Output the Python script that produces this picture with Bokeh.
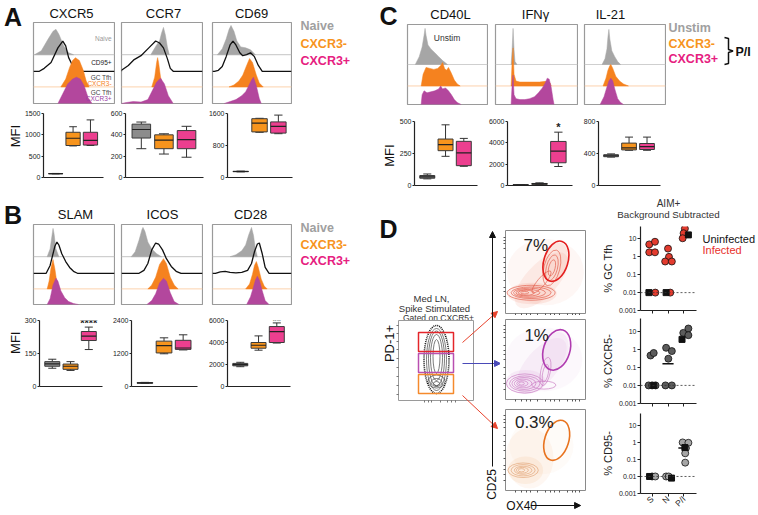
import math
from bokeh.plotting import figure
from bokeh.models import (Range1d, Spacer, FixedTicker, CustomJSTickFormatter, Span, Arrow,
                          NormalHead, ColumnDataSource, Label)
from bokeh.layouts import row, column
from bokeh.core.properties import value
from bokeh.embed import file_html
from bokeh.resources import INLINE

FONT = "Liberation Sans"
GRAY_H, ORANGE, PURPLE = "#a6a6a6", "#f5821f", "#b3479d"
BOX_COLORS = ["#8c8c8c", "#f7941d", "#ec3f8f"]

# ---------------------------------------------------------------- data
groups = ["Naive", "CXCR3-", "CXCR3+"]
# box stats per group: [min, q1, median, q3, max]
box_cxcr5 = [[85, 88, 90, 92, 95], [740, 750, 920, 1060, 1190], [750, 760, 870, 1060, 1350]]
box_ccr7 = [[270, 370, 450, 500, 520], [220, 270, 350, 400, 410], [190, 270, 355, 440, 480]]
box_cd69 = [[140, 145, 150, 155, 160], [1130, 1140, 1360, 1470, 1480], [1095, 1110, 1280, 1390, 1560]]
box_slam = [[83, 92, 103, 113, 124], [73, 78, 92, 102, 113], [168, 209, 229, 250, 270]]
box_icos = [[110, 120, 130, 140, 150], [1190, 1220, 1490, 1650, 1770], [1330, 1350, 1400, 1680, 1880]]
box_cd28 = [[1800, 1880, 1980, 2100, 2200], [3300, 3480, 3750, 4000, 4600], [3950, 4000, 4990, 5450, 5780]]
box_cd40l = [[52, 57, 67, 78, 90], [228, 272, 319, 363, 474], [150, 155, 255, 345, 368]]
box_ifng = [[30, 40, 50, 60, 70], [90, 110, 150, 190, 250], [1780, 2130, 3220, 4130, 5000]]
box_il21 = [[355, 360, 372, 385, 395], [440, 445, 470, 530, 605], [440, 450, 485, 525, 605]]

# histograms: x position inside the panel and height above the lane baseline
# lanes A/B: naive (grey), CD95+ (black line), CXCR3- (orange), CXCR3+ (purple)
h_cxcr5_x = [[1, 8, 15, 20, 23, 26, 31, 36, 41], [6, 11, 18, 25, 30, 33, 36, 40, 45, 51],
             [28, 33, 37, 40, 43, 47, 51, 54, 57], [25, 30, 35, 40, 44, 48, 52, 56, 60]]
h_cxcr5_h = [[0, 4, 16, 24, 26, 21, 9, 2, 0], [0, 3, 9, 24, 31, 26, 14, 6, 2, 0],
             [0, 8, 20, 27, 30, 27, 17, 6, 0], [0, 10, 20, 25, 27, 25, 18, 6, 0]]
h_ccr7_x = [[30, 33, 36, 39, 41, 43, 45, 47, 49], [0, 7, 13, 20, 28, 35, 39, 43, 47, 50, 53],
            [31, 34, 36, 37, 38, 40, 43], [0, 5, 12, 20, 27, 32, 36, 40, 44, 48, 53]]
h_ccr7_h = [[0, 5, 10, 14, 22, 28, 20, 8, 0], [1, 6, 12, 16, 24, 31, 29, 24, 13, 3, 0],
            [0, 10, 25, 30, 25, 10, 0], [0, 1, 2, 1.5, 4, 14, 22, 26, 20, 8, 0]]
h_cd69_x = [[5, 10, 14, 17, 19, 22, 25, 29, 34, 39, 44], [2, 6, 10, 14, 18, 21, 24, 28, 31, 35, 39, 43, 47, 51],
            [17, 22, 27, 31, 35, 38, 41, 45, 48, 52], [12, 18, 24, 30, 34, 37, 40, 42, 45, 48, 50]]
h_cd69_h = [[0, 6, 16, 26, 30, 24, 14, 8, 7, 5, 0], [0, 1, 5, 15, 27, 31, 27, 19, 16, 17, 19, 15, 6, 0],
            [0, 2, 6, 12, 22, 29, 25, 12, 4, 0], [0, 2, 4, 8, 12, 18, 24, 27, 18, 5, 0]]
h_slam_x = [[14, 17, 19, 20, 21, 23, 26], [13, 17, 20, 22, 24, 26, 29, 33, 37, 41, 45],
            [14, 16, 18, 20, 22, 24, 27], [14, 17, 20, 23, 25, 28, 32, 36, 41, 46]]
h_slam_h = [[0, 8, 22, 29, 24, 8, 0], [0, 8, 20, 28, 32, 29, 20, 12, 6, 2, 0],
            [0, 8, 22, 30, 20, 6, 0], [0, 6, 20, 27, 24, 14, 7, 3, 1, 0]]
h_icos_x = [[10, 14, 18, 21, 22, 24, 27, 31, 36, 41], [18, 23, 27, 31, 35, 38, 42, 46, 51, 56, 61],
            [27, 31, 35, 39, 43, 46, 50, 54, 58], [26, 31, 35, 39, 43, 46, 50, 54, 59]]
h_icos_h = [[0, 5, 17, 28, 30, 26, 15, 8, 3, 0], [0, 3, 10, 24, 31, 30, 24, 15, 7, 2, 0],
            [0, 4, 12, 25, 31, 26, 12, 4, 0], [0, 4, 11, 22, 27, 24, 12, 3, 0]]
h_cd28_x = [[18, 24, 30, 34, 37, 40, 42, 44, 46], [3, 8, 13, 18, 24, 30, 36, 40, 43, 46, 48, 51, 54, 58],
            [34, 38, 41, 43, 45, 47, 50, 53, 56], [35, 39, 42, 44, 46, 48, 51, 54, 58]]
h_cd28_h = [[0, 2, 6, 12, 22, 30, 22, 8, 0], [0, 1.5, 2, 1, 0.5, 1, 3, 10, 22, 30, 31, 20, 6, 0],
            [0, 5, 15, 24, 28, 22, 10, 3, 0], [0, 8, 18, 25, 29, 25, 14, 4, 0]]
# lanes C: unstim (grey), CXCR3- (orange), CXCR3+ (purple)
h_cd40l_x = [[8, 12, 15, 17, 18, 19, 21, 24, 28, 32, 36, 41],
             [14, 16, 19, 23, 27, 31, 34, 36, 38, 40, 42, 45, 48, 51, 54],
             [14, 15, 17, 20, 24, 28, 32, 34, 36, 39, 42, 45, 48, 51, 55]]
h_cd40l_h = [[0, 8, 18, 30, 37, 30, 20, 16, 12, 8, 4, 0],
             [0, 12, 19, 18, 17, 18, 21, 24, 18, 16, 19, 13, 6, 2, 0],
             [0, 10, 14, 12, 13, 14, 16, 19, 16, 17, 14, 10, 5, 2, 0]]
h_ifng_x = [[16, 17, 18, 19, 20, 22], [16, 17, 18, 19, 21, 25, 35, 45, 54, 56, 57],
            [16, 17, 18, 19, 21, 25, 30, 35, 40, 44, 48, 51, 53, 55, 57, 59, 60]]
h_ifng_h = [[0, 15, 37, 15, 3, 0], [0, 25, 39, 12, 5, 4, 4, 4, 5, 3, 0],
            [0, 20, 30, 10, 6, 5, 5, 6, 8, 12, 17, 22, 27, 26, 18, 5, 0]]
h_il21_x = [[18, 21, 23, 24, 25, 26, 28, 31, 34, 37], [19, 22, 24, 26, 27, 29, 32, 36, 40, 45],
            [16, 20, 23, 25, 27, 29, 31, 34, 37, 40]]
h_il21_h = [[0, 6, 16, 28, 36, 26, 14, 8, 3, 0], [0, 8, 16, 21, 22, 18, 10, 5, 2, 0],
            [0, 8, 18, 24, 27, 24, 16, 6, 2, 0]]

# AIM+ scatter (categories 1=S, 2=N, 3=P/I)
cats = ["S", "N", "P/I"]
tfh_inf_cat = [1, 1, 1, 1, 1, 2, 2, 2, 2, 2, 3, 3, 3]
tfh_inf_val = [5.0, 7.0, 1.8, 1.8, 0.01, 2.9, 1.0, 0.55, 0.55, 0.01, 38, 21, 11]
tfh_uninf_cat = [1, 2, 3]
tfh_uninf_val = [0.01, 0.01, 17]
cx5_inf_cat = [1, 1, 1, 1, 1, 2, 2, 2, 2, 2, 3, 3, 3]
cx5_inf_val = [0.45, 0.62, 0.01, 0.01, 0.01, 1.2, 0.79, 0.3, 0.01, 0.01, 8, 14, 6]
cx5_uninf_cat = [1, 3]
cx5_uninf_val = [0.01, 3.5]
cx5_median = {2: 0.16}
cd95_inf_cat = [1, 1, 2, 2, 3, 3, 3, 3, 3]
cd95_inf_val = [0.01, 0.01, 0.01, 0.01, 1.0, 0.95, 0.45, 0.23, 0.065]
cd95_uninf_cat = [1, 2, 3]
cd95_uninf_val = [0.01, 0.008, 0.5]
cd95_median = {3: 0.47}
# horizontal spread of the dots inside a category (styling only)
tfh_inf_dx = [-0.18, 0.18, -0.18, 0.18, 0.2, 0.0, 0.06, -0.18, 0.24, 0.14, 0.06, -0.02, -0.08]
tfh_uninf_dx = [-0.2, -0.12, 0.28]
cx5_inf_dx = [-0.1, 0.1, -0.22, 0.0, 0.22, -0.12, 0.24, 0.02, -0.16, 0.24, -0.04, 0.28, 0.28]
cx5_uninf_dx = [0.1, -0.12]
cd95_inf_dx = [0.0, 0.2, -0.12, 0.04, -0.08, 0.28, 0.12, 0.08, 0.08]
cd95_uninf_dx = [-0.16, 0.22, 0.06]

pct_labels = ["7%", "1%", "0.3%"]

# ---------------------------------------------------------------- helpers


def px(v):
    return int(round(v))


def base_fig(w, h, **kw):
    return figure(width=w, height=h, toolbar_location=None, output_backend="svg",
                  background_fill_color="white", border_fill_color="white", **kw)


def canvas(x0, x1, y0, y1):
    p = base_fig(px(x1) - px(x0), px(y1) - px(y0), x_range=Range1d(x0, x1), y_range=Range1d(y1, y0),
                 x_axis_type=None, y_axis_type=None, min_border=0, outline_line_color=None)
    return p


def sp(x0, x1, y0, y1):
    return Spacer(width=px(x1) - px(x0), height=px(y1) - px(y0))


def txt(p, x, y, s, size, color="#222222", align="center", bold=False, angle=0.0, baseline="middle"):
    p.text(x=[x], y=[y], text=[s], text_font=value(FONT), text_font_size=value(f"{size}px"),
           text_color=color, text_align=align, text_baseline=baseline,
           text_font_style="bold" if bold else "normal", angle=angle)


def dfig(x0, x1, y0, y1, fx0, fx1, fy0, fy1, xr, yr, ylog=False):
    p = base_fig(px(x1) - px(x0), px(y1) - px(y0), x_range=Range1d(*xr), y_range=Range1d(*yr),
                 y_axis_type="log" if ylog else "linear",
                 min_border_left=px(fx0) - px(x0), min_border_right=px(x1) - px(fx1),
                 min_border_top=px(fy0) - px(y0), min_border_bottom=px(y1) - px(fy1),
                 outline_line_color=None)
    p.grid.visible = False
    return p


def style_axis(ax, size="7px"):
    ax.major_tick_out = 2
    ax.major_tick_in = 0
    ax.minor_tick_line_color = None
    ax.major_label_standoff = 1
    ax.major_label_text_font_size = size
    ax.major_label_text_font = FONT
    ax.major_label_text_color = "#222222"
    ax.axis_line_color = "#222222"
    ax.axis_line_width = 1.2
    ax.major_tick_line_color = "#222222"


def ticks_only(ax, marks, out=2, color="#444444"):
    # tick marks without labels: drawn as minor ticks
    ax.ticker = FixedTicker(ticks=[], minor_ticks=marks)
    ax.major_tick_line_color = None
    ax.minor_tick_line_color = color
    ax.minor_tick_out = out
    ax.minor_tick_in = 0
    ax.major_label_standoff = 0


def hist_fig(x0, x1, y0, y1, xs, hs, bases, kinds):
    W, H = x1 - x0, y1 - y0
    p = base_fig(px(x1) - px(x0), px(y1) - px(y0), x_range=Range1d(0, W), y_range=Range1d(0, H),
                 x_axis_type=None, y_axis_type=None, min_border=1,
                 outline_line_color="#9a9a9a", outline_line_width=1.2)
    for x, h, b, k in zip(xs, hs, bases, kinds):
        if k == "line":
            p.line([0] + x + [W], [b] + [b + v for v in h] + [b], line_color="#111111", line_width=1.3)
        else:
            col, basecol = k
            if b > 0:
                p.line([0, W], [b, b], line_color=basecol, line_width=1)
            p.patch(x, [b + v for v in h], fill_color=col, line_color=col, line_width=0.5)
    return p


def box_fig(x0, x1, y0, y1, fx0, fx1, fy0, fy1, ymax, ticks, stats, star=None, star_y=None):
    p = dfig(x0, x1, y0, y1, fx0, fx1, fy0, fy1, (0.3, 3.75), (0, ymax))
    ya = p.yaxis[0]
    ya.ticker = FixedTicker(ticks=ticks, minor_ticks=[])
    style_axis(ya)
    xa = p.xaxis[0]
    style_axis(xa)
    ticks_only(xa, [])
    xs = [1, 2, 3]
    bw, cw = 0.41, 0.22
    src = ColumnDataSource(dict(
        x=xs, lo=[s[0] for s in stats], q1=[s[1] for s in stats], md=[s[2] for s in stats],
        q3=[s[3] for s in stats], hi=[s[4] for s in stats],
        l=[x - bw for x in xs], r=[x + bw for x in xs],
        cl=[x - cw for x in xs], cr=[x + cw for x in xs], c=BOX_COLORS))
    p.segment(x0="x", y0="lo", x1="x", y1="q1", source=src, line_color="#333333", line_width=1)
    p.segment(x0="x", y0="q3", x1="x", y1="hi", source=src, line_color="#333333", line_width=1)
    p.segment(x0="cl", y0="lo", x1="cr", y1="lo", source=src, line_color="#333333", line_width=1)
    p.segment(x0="cl", y0="hi", x1="cr", y1="hi", source=src, line_color="#333333", line_width=1)
    p.quad(left="l", right="r", bottom="q1", top="q3", source=src, fill_color="c",
           line_color="#3a3a3a", line_width=1)
    p.segment(x0="l", y0="md", x1="r", y1="md", source=src, line_color="#222222", line_width=1.2)
    if star:
        p.add_layout(Label(x=3, y=star_y, text=star, text_align="center", text_baseline="middle",
                           text_font=FONT, text_font_size="11px", text_font_style="bold",
                           text_color="#222222"))
    return p


FLOW_MARKS = [12, 20, 26, 31, 40, 50, 56, 61, 68, 78, 84, 88, 92]


def flow_fig(x0, x1, y0, y1, fx0, fx1, fy0, fy1, cloud, contours, gate, ccol, dcol, gcol, pct, pxy):
    p = dfig(x0, x1, y0, y1, fx0, fx1, fy0, fy1, (0, 100), (0, 100))
    p.outline_line_color = "#8a8a8a"
    for ax in (p.xaxis[0], p.yaxis[0]):
        ax.axis_line_color = None
        ticks_only(ax, FLOW_MARKS, out=2, color="#555555")
    p.ellipse(x=[c[0] for c in cloud], y=[c[1] for c in cloud], width=[c[2] for c in cloud],
              height=[c[3] for c in cloud], angle=[c[4] for c in cloud], fill_color=dcol,
              fill_alpha=[c[5] for c in cloud], line_color=None)
    p.ellipse(x=[c[0] for c in contours], y=[c[1] for c in contours], width=[c[2] for c in contours],
              height=[c[3] for c in contours], angle=[c[4] for c in contours], fill_color=None,
              line_color=ccol, line_width=0.7, line_alpha=0.9)
    p.ellipse(x=[gate[0]], y=[gate[1]], width=[gate[2]], height=[gate[3]], angle=[gate[4]],
              fill_color=None, line_color=gcol, line_width=1.6)
    txt(p, pxy[0], pxy[1], pct, 17, color="#222222")
    return p


def scat_fig(x0, x1, y0, y1, fx0, fx1, fy0, fy1, ylabel, show_x, circ_cat, circ_val, circ_dx, circ_col,
             sq_cat, sq_val, sq_dx, medians):
    p = dfig(x0, x1, y0, y1, fx0, fx1, fy0, fy1, (0.27, 3.79), (0.001, 50), ylog=True)
    ya = p.yaxis[0]
    ya.ticker = FixedTicker(ticks=[0.001, 0.01, 0.1, 1, 10], minor_ticks=[])
    ya.formatter = CustomJSTickFormatter(code="return tick.toString();")
    style_axis(ya)
    ya.major_tick_out = 3
    ya.axis_label = ylabel
    ya.axis_label_text_font = FONT
    ya.axis_label_text_font_size = "11px"
    ya.axis_label_text_font_style = "normal"
    ya.axis_label_text_color = "#222222"
    ya.axis_label_standoff = 2
    xa = p.xaxis[0]
    style_axis(xa, size="8.5px")
    if show_x:
        xa.ticker = FixedTicker(ticks=[1, 2, 3], minor_ticks=[])
        xa.major_tick_out = 3
        xa.major_label_overrides = {1: cats[0], 2: cats[1], 3: cats[2]}
        xa.major_label_orientation = math.pi / 4
    else:
        ticks_only(xa, [1, 2, 3], out=3, color="#222222")
    p.add_layout(Span(location=0.01, dimension="width", line_dash="2 2", line_color="#333333", line_width=0.8))
    for c, v in medians.items():
        p.segment(x0=[c - 0.35], y0=[v], x1=[c + 0.35], y1=[v], line_color="#111111", line_width=1.5)
    p.scatter(x=[c + d for c, d in zip(circ_cat, circ_dx)], y=circ_val, marker="circle", size=7,
              fill_color=circ_col, line_color="#111111", line_width=0.8)
    p.scatter(x=[c + d for c, d in zip(sq_cat, sq_dx)], y=sq_val, marker="square", size=6,
              fill_color="#111111", line_color="#111111")
    return p


# ---------------------------------------------------------------- panel A / B
AB_KINDS = [(GRAY_H, "#c4c4c4"), "line", (ORANGE, "#fcd2ad"), (PURPLE, None)]


def ab_block(letter, y_top, y_h0, y_h1, y_b1, letter_y, title_y, leg_y, hx, hh, bases, titles, title_x,
             boxes, mfi_y):
    cl = canvas(0, 32, y_top, y_h1)
    txt(cl, 12.5, letter_y, letter, 25, color="#111111", bold=True)
    tc = canvas(32, 292, y_top, y_h0)
    for t, tx in zip(titles, title_x):
        txt(tc, tx, title_y, t, 13, color="#111111")
    hx_bounds = [(32, 115), (120, 203), (211, 292)]
    hfigs = [hist_fig(a, b, y_h0, y_h1, x, h, bases, AB_KINDS) for (a, b), x, h in zip(hx_bounds, hx, hh)]
    if letter == "A":
        hp = hfigs[0]
        for s, yy, col in [("Naive", 67, "#9a9a9a"), ("CD95+", 42, "#222222"), ("GC Tfh", 27, "#444444"),
                           ("CXCR3-", 20.5, ORANGE), ("GC Tfh", 11.5, "#444444"), ("CXCR3+", 5, "#9b3fa6")]:
            txt(hp, 80, yy, s, 6.5, color=col, align="right")
    hrow = row(hfigs[0], sp(115, 120, y_h0, y_h1), hfigs[1], sp(203, 211, y_h0, y_h1), hfigs[2])
    lg = canvas(292, 375, y_top, y_h1)
    for s, yy, col in zip(["Naive", "CXCR3-", "CXCR3+"], leg_y, ["#a0a0a0", "#f7941d", "#e6207f"]):
        txt(lg, 300, yy, s, 12.5, color=col, align="left", bold=True)
    top = row(cl, column(tc, hrow), lg)
    mc = canvas(0, 21, y_h1, y_b1)
    txt(mc, 14.5, mfi_y, "MFI", 13, color="#111111", angle=math.pi / 2)
    bfigs = [box_fig(*b) for b in boxes]
    bot = row(mc, *bfigs, sp(297, 375, y_h1, y_b1))
    return column(top, bot)


A = ab_block("A", 0, 21, 104, 200, 16.5, 13, [25, 43, 60],
             [h_cxcr5_x, h_ccr7_x, h_cd69_x], [h_cxcr5_h, h_ccr7_h, h_cd69_h],
             [50, 33, 17, 0], ["CXCR5", "CCR7", "CD69"], [71, 163, 251],
             [(21, 105, 104, 200, 39, 103, 113, 177, 1500, [0, 500, 1000, 1500], box_cxcr5),
              (105, 205, 104, 200, 125, 203, 113, 177, 600, [0, 200, 400, 600], box_ccr7),
              (205, 297, 104, 200, 220, 292, 113, 177, 1600, [0, 800, 1600], box_cd69)], 138)
B = ab_block("B", 200, 223, 305, 400, 214, 213.5, [227, 244, 260],
             [h_slam_x, h_icos_x, h_cd28_x], [h_slam_h, h_icos_h, h_cd28_h],
             [49, 32, 16, 0], ["SLAM", "ICOS", "CD28"], [75, 162, 250],
             [(21, 105, 305, 400, 38, 102, 320, 386, 300, [0, 150, 300], box_slam, "****", 288),
              (105, 205, 305, 400, 131, 197, 320, 386, 2400, [0, 1200, 2400], box_icos),
              (205, 297, 305, 400, 220, 290, 320, 386, 6000, [0, 2000, 4000, 6000], box_cd28, "**", 5950)], 337)
col_ab = column(A, B, sp(0, 375, 400, 514))

# ---------------------------------------------------------------- panel C
C_KINDS = [(GRAY_H, "#cfcfcf"), (ORANGE, "#fcd2ad"), (PURPLE, None)]
cC = canvas(375, 406, 0, 105)
txt(cC, 388, 15.5, "C", 25, color="#111111", bold=True)
tC = canvas(406, 666, 0, 23)
for t, tx in zip(["CD40L", "IFNγ", "IL-21"], [450, 535, 610]):
    txt(tC, tx, 14, t, 13, color="#111111")
hc_bounds = [(406, 488), (494, 578), (583, 666)]
hcf = [hist_fig(a, b, 23, 105, x, h, [41, 19, 0], C_KINDS)
       for (a, b), x, h in zip(hc_bounds, [h_cd40l_x, h_ifng_x, h_il21_x], [h_cd40l_h, h_ifng_h, h_il21_h])]
txt(hcf[0], 27, 68, "Unstim", 8.5, color="#333333", align="left")
hrowC = row(hcf[0], sp(488, 494, 23, 105), hcf[1], sp(578, 583, 23, 105), hcf[2])
lgC = canvas(666, 757, 0, 105)
for s, yy, col in [("Unstim", 27, "#a0a0a0"), ("CXCR3-", 43, "#f7941d"), ("CXCR3+", 58.5, "#e6207f")]:
    txt(lgC, 668, yy, s, 12.5, color=col, align="left", bold=True)
lgC.line([724, 728, 728, 732.5, 728, 728, 724], [37, 38, 49, 50.5, 52, 63, 64], line_color="#111111",
         line_width=1.5)
txt(lgC, 735, 51, "P/I", 12.5, color="#111111", align="left", bold=True)
C_top = row(cC, column(tC, hrowC), lgC)

mcC = canvas(375, 396, 105, 193)
txt(mcC, 389, 152, "MFI", 13, color="#111111", angle=math.pi / 2)
bC1 = box_fig(396, 485, 105, 193, 412, 477, 121, 185, 500, [0, 250, 500], box_cd40l)
bC2 = box_fig(485, 580, 105, 193, 506, 572, 121, 185, 6000, [0, 2000, 4000, 6000], box_ifng, "*", 5450)
bC3 = box_fig(580, 665, 105, 193, 596, 660, 121, 185, 800, [0, 400, 800], box_il21)
C_bot = row(mcC, bC1, bC2, bC3, sp(665, 757, 105, 193))

# ---------------------------------------------------------------- panel D
dL = canvas(375, 500, 193, 514)
txt(dL, 388, 228.5, "D", 25, color="#111111", bold=True)
txt(dL, 431, 298, "Med LN,", 9.5, color="#333333")
txt(dL, 434, 307.5, "Spike Stimulated", 9.5, color="#333333")
txt(dL, 438, 317, "Gated on CXCR5+", 8.5, color="#333333")
txt(dL, 389, 343, "PD-1+", 13, color="#111111", angle=math.pi / 2)
# gating plot (PD-1 vs CXCR5 contour)
gate_box = (398, 473, 320, 400)
dL.quad(left=[gate_box[0]], right=[gate_box[1]], top=[gate_box[2]], bottom=[gate_box[3]],
        fill_color=None, line_color="#9a9a9a", line_width=1)
dL.segment(x0=[396] * 9, x1=[398] * 9, y0=[325, 333, 341, 349, 358, 367, 376, 385, 394],
           y1=[325, 333, 341, 349, 358, 367, 376, 385, 394], line_color="#555555", line_width=0.8)
dL.segment(x0=[424, 428, 431, 440, 447, 451, 455], x1=[424, 428, 431, 440, 447, 451, 455],
           y0=[400] * 7, y1=[402] * 7, line_color="#555555", line_width=0.8)
gate_contours = [(436, 359, 25, 68, 0), (436, 359, 20, 62, 0), (436, 358, 16, 55, 0), (436, 357, 12, 46, 0),
                 (436, 356, 7, 34, 0), (436, 381, 17, 13, 0), (436, 382, 11, 8, 0), (436, 383, 6, 4, 0)]
dL.ellipse(x=[c[0] for c in gate_contours[:1]], y=[c[1] for c in gate_contours[:1]],
           width=[c[2] for c in gate_contours[:1]], height=[c[3] for c in gate_contours[:1]],
           fill_color=None, line_color="#111111", line_width=1.6, line_dash="1 1")
dL.ellipse(x=[c[0] for c in gate_contours[1:]], y=[c[1] for c in gate_contours[1:]],
           width=[c[2] for c in gate_contours[1:]], height=[c[3] for c in gate_contours[1:]],
           fill_color=None, line_color="#444444", line_width=0.7)
gates = [(332, 351, "#e4252a"), (353, 372, "#b94fb0"), (374, 393, "#f58a2c")]
for t, b, c in gates:
    dL.quad(left=[418], right=[453], top=[t], bottom=[b], fill_color=None, line_color=c, line_width=1.5)
for (xs, ys, xe, ye, c) in [(462, 342, 497, 311, "#e8432d"), (462, 363, 500, 363, "#4a4ab8"),
                            (462, 395, 497, 428, "#e8432d")]:
    dL.add_layout(Arrow(end=NormalHead(size=6, fill_color=c, line_color=c), x_start=xs, y_start=ys,
                        x_end=xe, y_end=ye, line_color=c, line_width=1))
dL.add_layout(Arrow(end=NormalHead(size=6, fill_color="#111111", line_color="#111111"), x_start=492,
                    y_start=466, x_end=492, y_end=231, line_color="#111111", line_width=1))
txt(dL, 491, 484, "CD25", 12, color="#111111", angle=math.pi / 2)

flow1_cloud = [(50, 50, 96, 80, 0, 0.07), (45, 40, 40, 85, -0.75, 0.13), (33, 24, 62, 26, 0, 0.16),
               (62, 62, 30, 48, -0.3, 0.16)]
flow1_contours = [(32, 25, 60, 18, 0), (32, 25, 50, 14, 0), (30, 25, 40, 11, 0), (28, 25, 30, 8, 0),
                  (26, 25, 20, 6, 0), (24, 25, 10, 3, 0), (58, 55, 20, 44, -0.25), (58, 55, 14, 32, -0.25),
                  (58, 55, 8, 20, -0.25), (45, 38, 10, 34, -0.7)]
flow1_gate = (63, 63, 30, 50, -0.3)
flow2_cloud = [(48, 50, 96, 80, 0, 0.07), (45, 42, 40, 85, -0.7, 0.12), (25, 22, 50, 30, 0, 0.15),
               (62, 60, 32, 50, -0.3, 0.12)]
flow2_contours = [(24, 20, 46, 24, 0), (24, 20, 38, 19, 0), (23, 20, 30, 15, 0), (22, 20, 22, 11, 0),
                  (21, 20, 14, 7, 0), (20, 20, 7, 4, 0), (48, 18, 30, 10, 0), (50, 35, 12, 36, -0.2),
                  (50, 33, 7, 22, -0.2)]
flow2_gate = (64, 62, 33, 52, -0.3)
flow3_cloud = [(30, 40, 60, 75, 0, 0.1), (25, 25, 44, 34, 0, 0.15), (45, 55, 80, 70, 0, 0.05)]
flow3_contours = [(22, 25, 38, 18, 0), (22, 25, 30, 14, 0), (22, 25, 22, 10, 0), (21, 25, 15, 7, 0),
                  (20, 25, 8, 4, 0)]
flow3_gate = (64, 62, 30, 51, -0.3)

fl1 = flow_fig(500, 598, 228, 315, 505, 589, 230, 313, flow1_cloud, flow1_contours, flow1_gate,
               "#e0533f", "#f08a73", "#e41f1f", pct_labels[0], (38, 82))
fl2 = flow_fig(500, 598, 315, 405, 503, 586, 319, 399, flow2_cloud, flow2_contours, flow2_gate,
               "#c874c0", "#d99ad4", "#b03cb0", pct_labels[1], (39, 80))
fl3 = flow_fig(500, 598, 405, 494, 502, 585, 409, 490, flow3_cloud, flow3_contours, flow3_gate,
               "#e0a070", "#f3b27c", "#e8731f", pct_labels[2], (36, 84))
flb = canvas(500, 598, 494, 514)
txt(flb, 501, 505, "OX40", 12, color="#111111", align="left")
flb.add_layout(Arrow(end=NormalHead(size=6, fill_color="#111111", line_color="#111111"), x_start=531,
                     y_start=505, x_end=592, y_end=505, line_color="#111111", line_width=1))
flow_col = column(sp(500, 598, 193, 228), fl1, fl2, fl3, flb)

ttl = canvas(598, 757, 193, 220)
txt(ttl, 668, 202.5, "AIM+", 10, color="#333333")
txt(ttl, 668, 213.5, "Background Subtracted", 9.8, color="#333333")
sc1 = scat_fig(598, 700, 220, 316, 638, 696, 226, 310, "% GC Tfh", False, tfh_inf_cat, tfh_inf_val,
               tfh_inf_dx, "#e33b2e", tfh_uninf_cat, tfh_uninf_val, tfh_uninf_dx, {})
lgD = canvas(700, 757, 220, 316)
txt(lgD, 702, 234, "Uninfected", 11, color="#111111", align="left")
txt(lgD, 702, 247, "Infected", 11, color="#e8302a", align="left")
sc2 = scat_fig(598, 700, 316, 408, 638, 696, 318, 403, "% CXCR5-", False, cx5_inf_cat, cx5_inf_val,
               cx5_inf_dx, "#5c5c5c", cx5_uninf_cat, cx5_uninf_val, cx5_uninf_dx, cx5_median)
sc3 = scat_fig(598, 700, 408, 514, 638, 696, 413, 499, "% CD95-", True, cd95_inf_cat, cd95_inf_val,
               cd95_inf_dx, "#a6a6a6", cd95_uninf_cat, cd95_uninf_val, cd95_uninf_dx, cd95_median)
scat_col = column(ttl, row(sc1, lgD), row(sc2, sp(700, 757, 316, 408)), row(sc3, sp(700, 757, 408, 514)))

D = row(dL, flow_col, scat_col)
col_cd = column(C_top, C_bot, D)

page = row(col_ab, col_cd)
open("out.html", "w").write(file_html(page, INLINE))
